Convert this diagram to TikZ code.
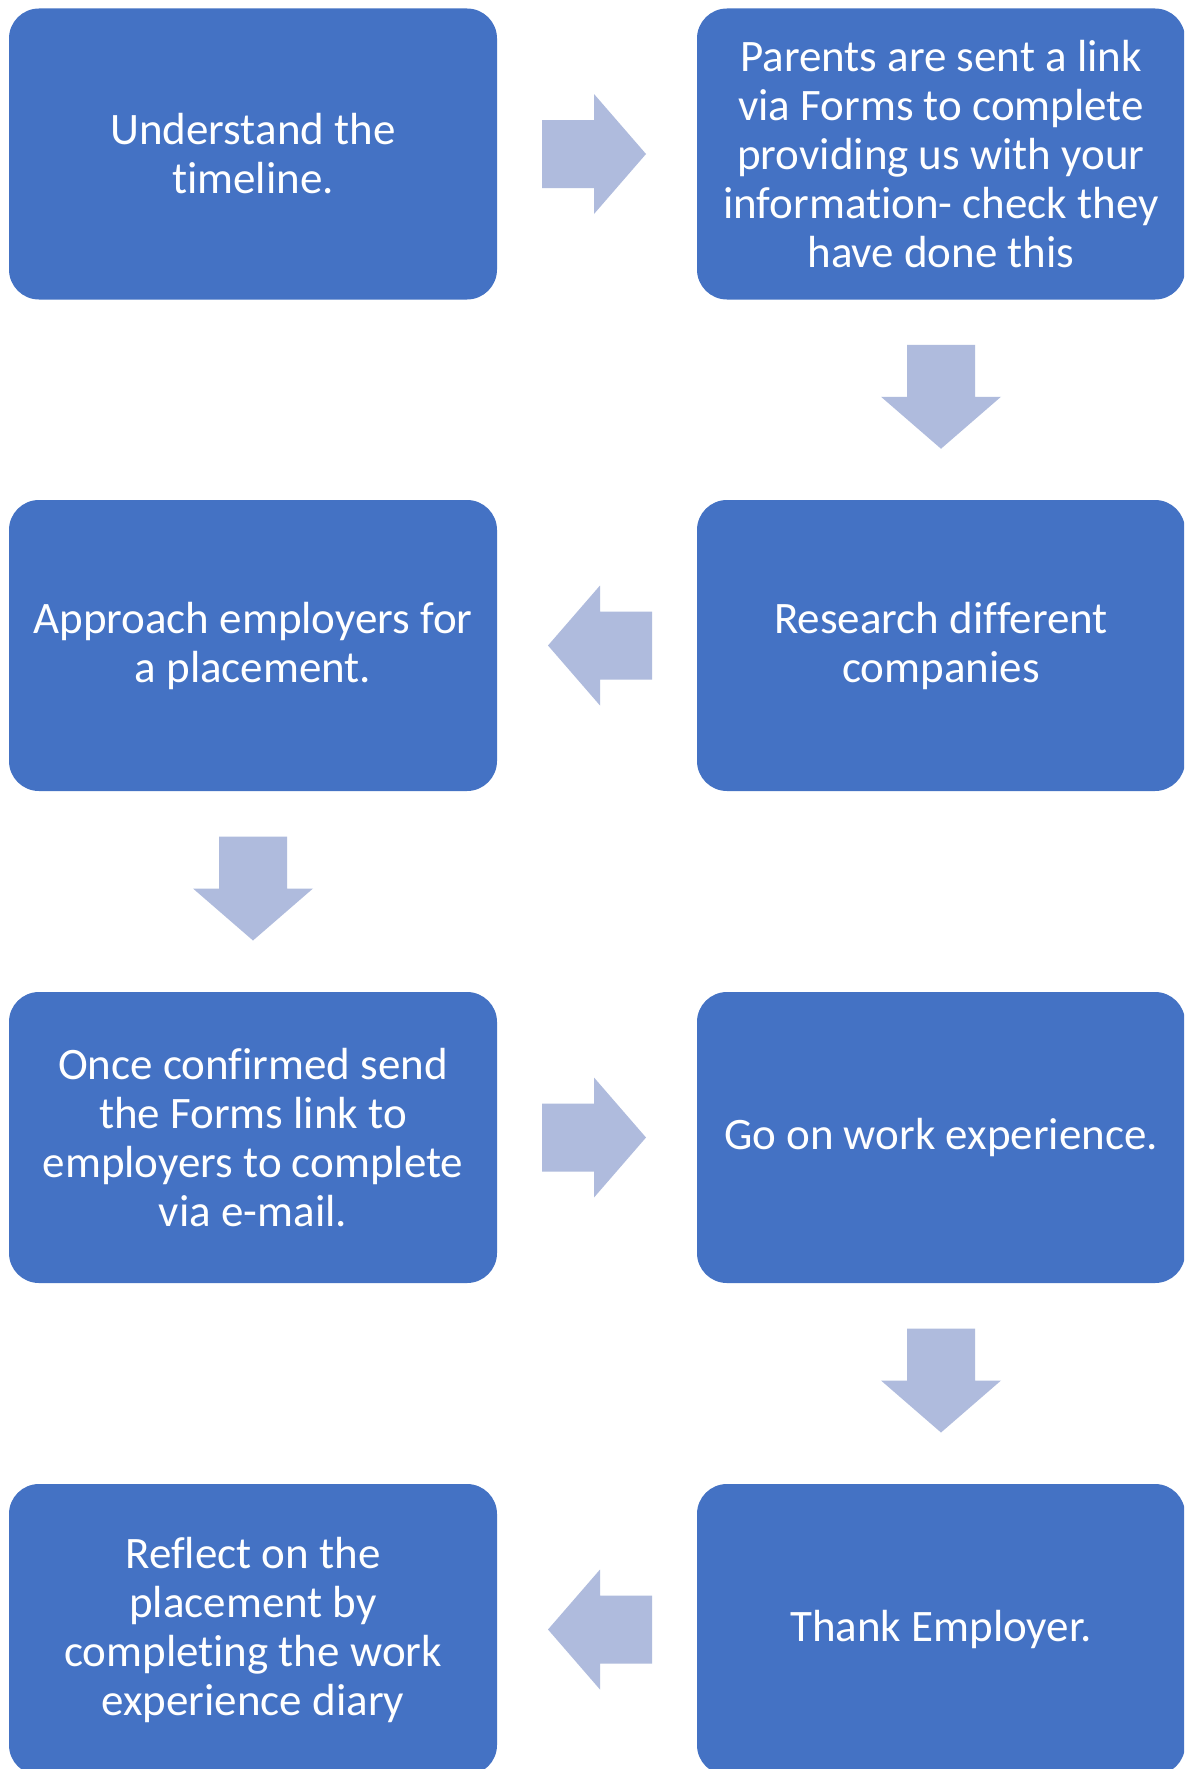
\documentclass[tikz,border=0pt]{standalone}
\usepackage{fontspec}
\setmainfont{Carlito}[RawFeature={-liga;-clig;-calt;-dlig}]
\usetikzlibrary{calc}
\definecolor{boxblue}{HTML}{4472C4}
\definecolor{arrowfill}{HTML}{AFBBDD}
\newcommand\nolig{\kern0pt }
\tikzset{
  stepbox/.style={rectangle, rounded corners=30pt, fill=boxblue, draw=none, text=white,
    minimum width=488pt, minimum height=291pt, align=center,
    font=\fontsize{45}{49}\selectfont, inner sep=0pt},
  blockarrow/.pic={\fill[arrowfill] (-52pt,-34pt) -- (0pt,-34pt) -- (0pt,-60pt) -- (52pt,0pt)
    -- (0pt,60pt) -- (0pt,34pt) -- (-52pt,34pt) -- cycle;}
}
\begin{document}
\begin{tikzpicture}[x=1pt,y=-1pt]
\useasboundingbox (0,0) rectangle (1184,1769);
\fill[white] (0,0) rectangle (1184,1769);
\clip (0,0) rectangle (1184,1769);
\node[stepbox] (s1) at (253,154) {Understand the\\t\nolig imeline.};
\node[stepbox] (s2) at (941,154) {Parents are sent a link\\via Forms to complete\\providing us with your\\informat\nolig ion- check they\\have done this};
\node[stepbox] (s3) at (941,645.5) {Research different\\companies};
\node[stepbox] (s4) at (253,645.5) {Approach employers for\\a placement.};
\node[stepbox] (s5) at (253,1137.5) {Once confirmed send\\the Forms link to\\employers to complete\\via e-mail.};
\node[stepbox] (s6) at (941,1137.5) {Go on work experience.};
\node[stepbox] (s7) at (941,1629.5) {Thank Employer.};
\node[stepbox] (s8) at (253,1629.5) {Reflect on the\\placement by\\complet\nolig ing the work\\experience diary};
\path ($(s1.east)!0.5!(s2.west)$) ++(-3,0) pic {blockarrow};
\path ($(s2.south)!0.5!(s3.north)$) ++(0,-3) pic[rotate=-90] {blockarrow};
\path ($(s3.west)!0.5!(s4.east)$) ++(3,0) pic[rotate=180] {blockarrow};
\path ($(s4.south)!0.5!(s5.north)$) ++(0,-3) pic[rotate=-90] {blockarrow};
\path ($(s5.east)!0.5!(s6.west)$) ++(-3,0) pic {blockarrow};
\path ($(s6.south)!0.5!(s7.north)$) ++(0,-3) pic[rotate=-90] {blockarrow};
\path ($(s7.west)!0.5!(s8.east)$) ++(3,0) pic[rotate=180] {blockarrow};
\end{tikzpicture}
\end{document}
